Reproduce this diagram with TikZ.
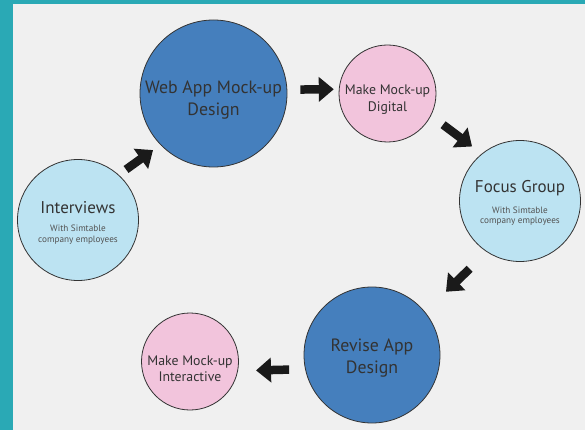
\documentclass[tikz,border=0pt]{standalone}
\usepackage{fontspec}
\setmainfont{PT Sans}
\usetikzlibrary{arrows.meta,calc}

\definecolor{framecol}{HTML}{2AA9B5}
\definecolor{paper}{HTML}{F0F0F0}
\definecolor{stepblue}{HTML}{457FBD}
\definecolor{talkblue}{HTML}{BCE3F2}
\definecolor{mockpink}{HTML}{F2C4DC}
\definecolor{inkgray}{HTML}{333333}
\definecolor{arrowink}{HTML}{1A1A1A}

\tikzset{
	phase/.style={circle,draw=inkgray,line width=0.8pt,inner sep=0pt},
	bigphase/.style={phase,fill=stepblue},
	talkphase/.style={phase,fill=talkblue,minimum size=121pt},
	mockphase/.style={phase,fill=mockpink,minimum size=97pt},
	bigtext/.style={text=inkgray,align=center,font=\fontsize{17.8}{22}\selectfont},
	midtext/.style={text=inkgray,align=center,font=\fontsize{17}{20}\selectfont},
	mocktext/.style={text=inkgray,align=center,font=\fontsize{13.8}{16.5}\selectfont},
	notetext/.style={text=inkgray!85,align=center,font=\fontsize{9.2}{10.5}\selectfont},
	fat/.style={arrowink,line width=8.5pt,-{Triangle[length=15pt,width=24pt]}}
}

\begin{document}
\begin{tikzpicture}[x=1pt,y=-1pt]
	% frame and paper
	\fill[framecol] (0,0) rectangle (585,430);
	\fill[paper] (13,4) rectangle (585,430);
	\useasboundingbox (0,0) rectangle (585,430);
	
	% circles
	\node[talkphase] (iv) at (78,220) {};
	\node[bigphase,minimum size=147pt] (web) at (213.5,93.5) {};
	\node[mockphase] (dig) at (387.5,93.5) {};
	\node[talkphase] (fg) at (520,201) {};
	\node[bigphase,minimum size=136pt] (rev) at (372,355) {};
	\node[mockphase] (mi) at (190,361.5) {};
	
	% labels
	\node[midtext] (ivt) at ($(iv)+(0,-12)$) {Interviews};
	\node[notetext,below=4pt] (ivn) at (ivt.south) {With Simtable\\company employees};
	\node[bigtext] (webt) at ($(web)+(0,7)$) {Web App Mock-up\\Design};
	\node[mocktext] (digt) at ($(dig)+(0,6)$) {Make Mock-up\\Digital};
	\node[midtext] (fgt) at ($(fg)+(0,-13)$) {Focus Group};
	\node[notetext,below=4pt] (fgn) at (fgt.south) {With Simtable\\company employees};
	\node[bigtext] (revt) at ($(rev)+(0,3)$) {Revise App\\Design};
	\node[mocktext] (mit) at ($(mi)+(0,7)$) {Make Mock-up\\Interactive};
	
	% arrows
	\draw[fat,shorten <=9pt,shorten >=9pt] (iv.48) -- (web.-136);
	\draw[fat,shorten <=13pt,shorten >=5pt] (web.3) -- (dig.175);
	\draw[fat,shorten <=15pt,shorten >=12pt] (dig.-27) -- (fg.129);
	\draw[fat,shorten <=24pt,shorten >=29pt] (fg.-123) -- (rev.39);
	\draw[fat,shorten <=16pt,shorten >=18pt] (rev.-168) -- (mi.-11);
\end{tikzpicture}
\end{document}
